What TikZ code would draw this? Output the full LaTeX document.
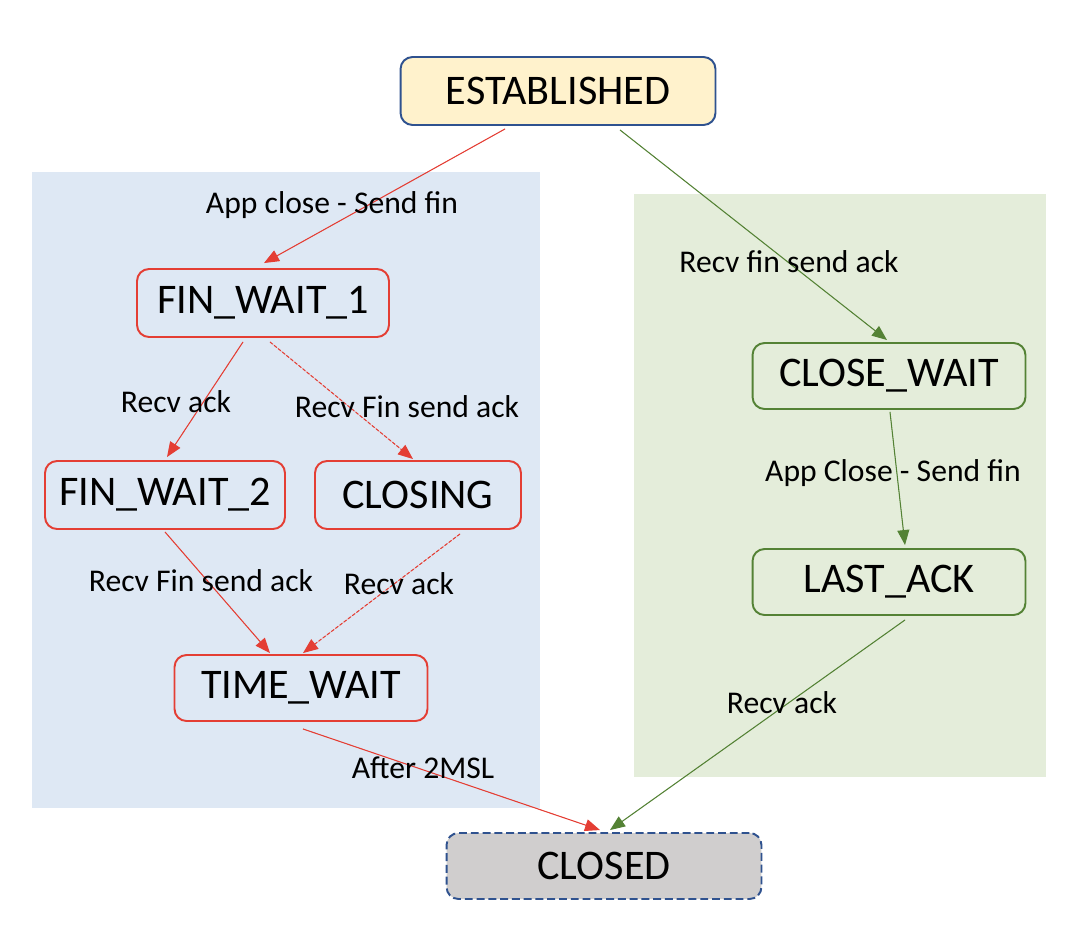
\documentclass[tikz,border=0pt]{standalone}
\usepackage{fontspec}
\setmainfont{Carlito}
\usetikzlibrary{calc,arrows.meta}

\definecolor{redline}{RGB}{228,62,52}
\definecolor{greenline}{RGB}{84,130,53}
\definecolor{darkblue}{RGB}{47,82,143}
\definecolor{bluepanel}{RGB}{222,232,244}
\definecolor{greenpanel}{RGB}{228,237,218}
\definecolor{estfill}{RGB}{255,242,204}
\definecolor{closedfill}{RGB}{208,206,206}

\tikzset{
	state/.style={rounded corners=0.24cm, line width=1.1pt, inner sep=0pt, minimum height=1.36cm, font=\fontsize{24}{28}\selectfont},
	redstate/.style={state, draw=redline, fill=bluepanel},
	greenstate/.style={state, draw=greenline, fill=greenpanel},
	redarrow/.style={draw=redline, line width=0.6pt, -{Triangle[length=0.3cm,width=0.24cm]}, fill=redline},
	greenarrow/.style={draw=greenline, line width=0.6pt, -{Triangle[length=0.3cm,width=0.24cm]}, fill=greenline},
	lbl/.style={inner sep=1pt, font=\fontsize{18}{22}\selectfont}
}

\begin{document}
\begin{tikzpicture}[x=0.02cm, y=-0.02cm]
		%%%%% START %%%%%
		\useasboundingbox (0, 0) rectangle (1068, 926);
		
		% panels
		\fill[bluepanel] (32, 172) rectangle (540, 808);
		\fill[greenpanel] (634, 194) rectangle (1046, 777);
		
		% states
		\node[state, draw=darkblue, fill=estfill, minimum width=6.3cm] (est) at (558, 91) {ESTABLISHED};
		
		\node[redstate, minimum width=5.04cm] (fw1) at (263, 303) {FIN\_WAIT\_1};
		\node[redstate, minimum width=4.8cm] (fw2) at (165, 495) {FIN\_WAIT\_2};
		\node[redstate, minimum width=4.12cm] (closing) at (418, 495) {CLOSING};
		\node[redstate, minimum width=5.06cm, minimum height=1.32cm] (tw) at (301, 688) {TIME\_WAIT};
		
		\node[greenstate, minimum width=5.46cm, minimum height=1.32cm] (cw) at (889, 376) {CLOSE\_WAIT};
		\node[greenstate, minimum width=5.46cm, minimum height=1.32cm] (la) at (889, 582) {LAST\_ACK};
		
		\node[state, dash pattern=on 4.5pt off 2.2pt, draw=darkblue, fill=closedfill, minimum width=6.3cm, minimum height=1.32cm] (closed) at (604, 866) {CLOSED};
		
		% active close side
		\draw[redarrow] ($(est.south)+(-53, 3)$) -- ($(fw1.north)+(1, -5)$);
		\draw[redarrow] ($(fw1.south)+(-20, 4)$) -- ($(fw2.north)+(2, -3)$);
		\draw[redarrow, dash pattern=on 2pt off 1pt] ($(fw1.south)+(7, 4)$) -- ($(closing.north)+(-5, -1)$);
		\draw[redarrow] ($(fw2.south)+(0, 2)$) -- ($(tw.north)+(-31, -1)$);
		\draw[redarrow, dash pattern=on 2pt off 1pt] ($(closing.south)+(42, 4)$) -- ($(tw.north)+(2, -1)$);
		\draw[redarrow] ($(tw.south)+(2, 7)$) -- ($(closed.north)+(-4, -2)$);
		
		% passive close side
		\draw[greenarrow] ($(est.south)+(62, 4)$) -- ($(cw.north)+(-2, -2)$);
		\draw[greenarrow] ($(cw.south)+(1, 2)$) -- ($(la.north)+(16, -3)$);
		\draw[greenarrow] ($(la.south)+(16, 4)$) -- ($(closed.north)+(6, -2)$);
		
		% labels
		\node[lbl] (l1) at (332, 205) {App close - Send fin};
		\node[lbl] (l2) at (789, 262) {Recv fin send ack};
		\node[lbl] (l3) at (176, 402) {Recv ack};
		\node[lbl] (l4) at (407, 407) {Recv Fin send ack};
		\node[lbl] (l5) at (201, 581) {Recv Fin send ack};
		\node[lbl] (l6) at (399, 584) {Recv ack};
		\node[lbl] (l7) at (893, 473) {App Close - Send fin};
		\node[lbl] (l8) at (782, 703) {Recv ack};
		\node[lbl] (l9) at (423, 768) {After 2MSL};
		
		%%%%% END %%%%%
	\end{tikzpicture}
\end{document}
